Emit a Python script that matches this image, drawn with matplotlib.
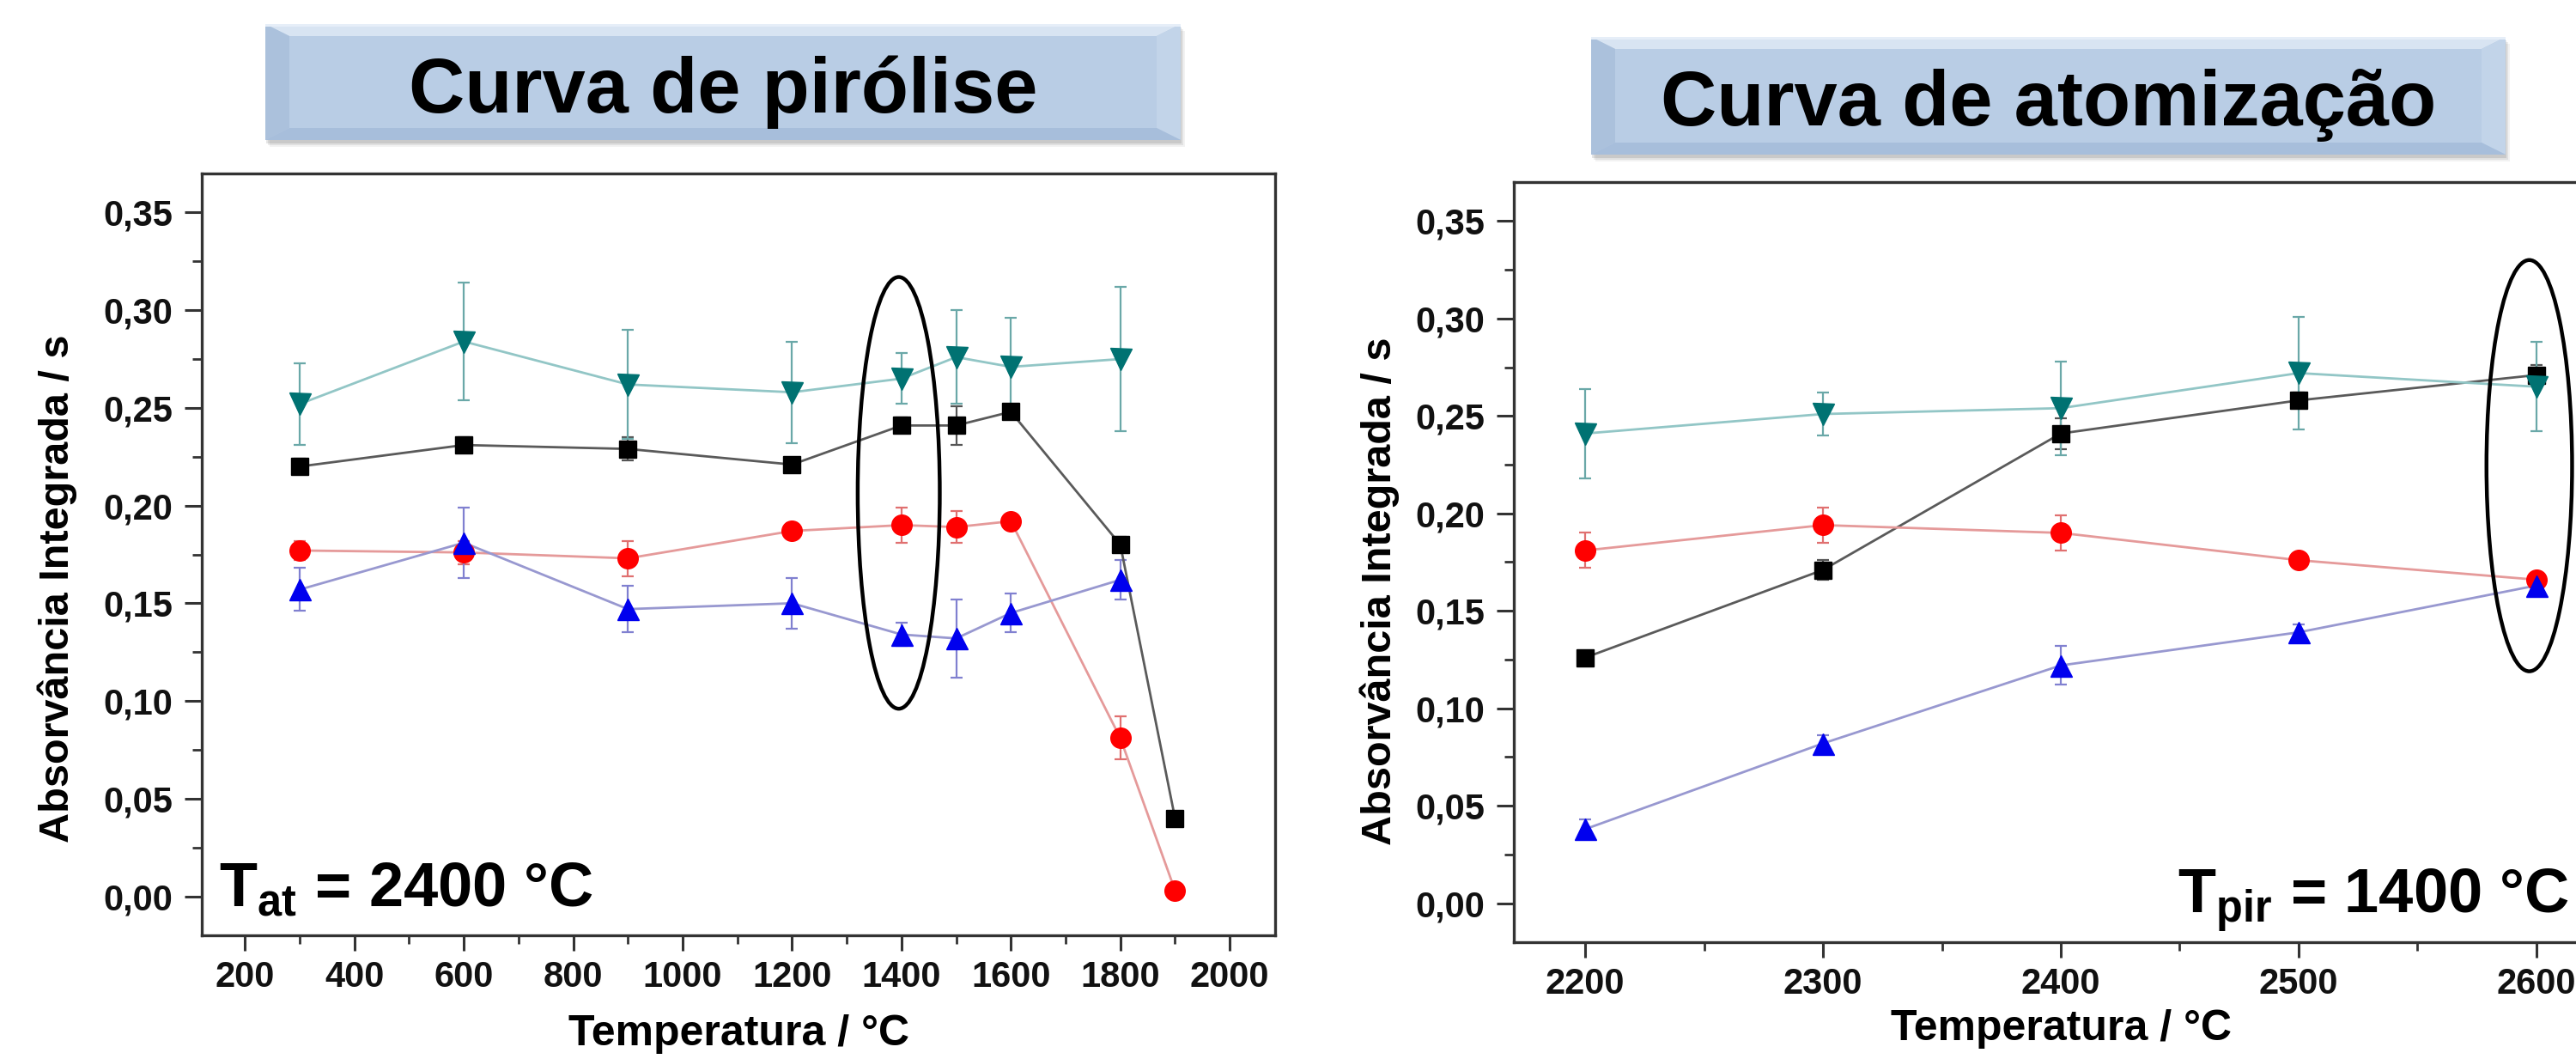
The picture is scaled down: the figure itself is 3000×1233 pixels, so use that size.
import matplotlib
matplotlib.use('Agg')
import matplotlib.pyplot as plt
from matplotlib.patches import Polygon, Rectangle, Ellipse
from matplotlib.ticker import MultipleLocator
import numpy as np

plt.rcParams['font.family'] = ['Liberation Sans', 'DejaVu Sans']
plt.rcParams['font.weight'] = 'bold'
plt.rcParams['mathtext.fontset'] = 'custom'
plt.rcParams['mathtext.rm'] = 'Liberation Sans:bold'
plt.rcParams['mathtext.it'] = 'Liberation Sans:bold'
plt.rcParams['mathtext.bf'] = 'Liberation Sans:bold'

# ---------------- data ----------------
# Curva de pirólise (T_at = 2400 °C)
pyro_temp = [300, 600, 900, 1200, 1400, 1500, 1600, 1800, 1900]
pyro_temp_short = [300, 600, 900, 1200, 1400, 1500, 1600, 1800]
pyro_square = [0.220, 0.231, 0.229, 0.221, 0.241, 0.241, 0.248, 0.180, 0.040]
pyro_square_err = [0.004, 0.004, 0.006, 0.003, 0.004, 0.010, 0.003, 0.004, 0.003]
pyro_circle = [0.177, 0.176, 0.173, 0.187, 0.190, 0.189, 0.192, 0.081, 0.003]
pyro_circle_err = [0.005, 0.006, 0.009, 0.004, 0.009, 0.008, 0.003, 0.011, 0.002]
pyro_up = [0.157, 0.181, 0.147, 0.150, 0.134, 0.132, 0.145, 0.162]
pyro_up_err = [0.011, 0.018, 0.012, 0.013, 0.006, 0.020, 0.010, 0.010]
pyro_down = [0.252, 0.284, 0.262, 0.258, 0.265, 0.276, 0.271, 0.275]
pyro_down_err = [0.021, 0.030, 0.028, 0.026, 0.013, 0.024, 0.025, 0.037]

# Curva de atomização (T_pir = 1400 °C)
atom_temp = [2200, 2300, 2400, 2500, 2600]
atom_square = [0.126, 0.171, 0.241, 0.258, 0.271]
atom_square_err = [0.003, 0.005, 0.008, 0.004, 0.005]
atom_circle = [0.181, 0.194, 0.190, 0.176, 0.166]
atom_circle_err = [0.009, 0.009, 0.009, 0.003, 0.003]
atom_up = [0.038, 0.082, 0.122, 0.139, 0.163]
atom_up_err = [0.005, 0.004, 0.010, 0.004, 0.005]
atom_down = [0.241, 0.251, 0.254, 0.272, 0.265]
atom_down_err = [0.023, 0.011, 0.024, 0.029, 0.023]

yticks = [0.00, 0.05, 0.10, 0.15, 0.20, 0.25, 0.30, 0.35]
ytick_labels = ['0,00', '0,05', '0,10', '0,15', '0,20', '0,25', '0,30', '0,35']
pyro_xticks = [200, 400, 600, 800, 1000, 1200, 1400, 1600, 1800, 2000]
atom_xticks = [2200, 2300, 2400, 2500, 2600]

titles = ['Curva de pirólise', 'Curva de atomização']
ylabel = 'Absorvância Integrada / s'
xlabel = 'Temperatura / °C'
note_pyro = r'T$_{\mathrm{at}}$ = 2400 °C'
note_atom = r'T$_{\mathrm{pir}}$ = 1400 °C'

# ---------------- styles ----------------
styles = {
    'square': dict(marker='s', mc='#000000', lc='#5a5a5a', ec='#555555', ms=15),
    'circle': dict(marker='o', mc='#ff0000', lc='#e59a9a', ec='#e07070', ms=17),
    'up':     dict(marker='^', mc='#0000ee', lc='#9898d0', ec='#8080d0', ms=18),
    'down':   dict(marker='v', mc='#007272', lc='#92c6c6', ec='#6aa8a8', ms=18),
}

W, H = 3000, 1233
fig = plt.figure(figsize=(W / 100, H / 100), dpi=100)
fig.patch.set_facecolor('white')

# overlay in pixel coordinates for decorations
bg = fig.add_axes([0, 0, 1, 1], zorder=-5)
bg.set_xlim(0, W)
bg.set_ylim(H, 0)
bg.axis('off')


def px_axes(x0, y0, x1, y1):
    return [x0 / W, 1 - y1 / H, (x1 - x0) / W, (y1 - y0) / H]


def draw_box(x0, y0, x1, y1, text, baseline):
    # shadow
    for off, a in [(8, 0.05), (6, 0.07), (4, 0.10)]:
        bg.add_patch(Rectangle((x0 + off - 3, y0 + off), x1 - x0, y1 - y0,
                               fc='#000000', alpha=a, ec='none', zorder=1))
    bw, th, bh = 28, 14, 14
    bg.add_patch(Rectangle((x0, y0), x1 - x0, y1 - y0, fc='#b9cde5', ec='none', zorder=2))
    bg.add_patch(Polygon([(x0, y0), (x1, y0), (x1 - bw, y0 + th), (x0 + bw, y0 + th)],
                         closed=True, fc='#d8e4f2', ec='none', zorder=3))
    bg.add_patch(Polygon([(x0, y0), (x0 + bw, y0 + th), (x0 + bw, y1 - bh), (x0, y1)],
                         closed=True, fc='#abc1dc', ec='none', zorder=3))
    bg.add_patch(Polygon([(x1, y0), (x1 - bw, y0 + th), (x1 - bw, y1 - bh), (x1, y1)],
                         closed=True, fc='#c2d4e9', ec='none', zorder=3))
    bg.add_patch(Polygon([(x0, y1), (x0 + bw, y1 - bh), (x1 - bw, y1 - bh), (x1, y1)],
                         closed=True, fc='#a7bedb', ec='none', zorder=3))
    bg.add_patch(Rectangle((x0, y0), x1 - x0, 3, fc='#e6eef8', ec='none', zorder=4))
    bg.text((x0 + x1) / 2, baseline, text, fontsize=65, fontweight='bold',
            ha='center', va='baseline', color='black', zorder=5)


draw_box(309, 28, 1375, 163, titles[0], 131)
draw_box(1853, 43, 2918, 180, titles[1], 146)


def plot_series(ax, x, y, e, key):
    st = styles[key]
    ax.errorbar(x, y, yerr=e, fmt='none', ecolor=st['ec'], elinewidth=1.6,
                capsize=5, capthick=1.6, zorder=2)
    ax.plot(x, y, '-', color=st['lc'], lw=2.0, zorder=3)
    ax.plot(x, y, ls='none', marker=st['marker'], color=st['mc'],
            ms=st['ms'], mec=st['mc'], zorder=4)


def style_axes(ax, xminor):
    ax.set_ylim(-0.02, 0.37)
    ax.set_yticks(yticks, labels=ytick_labels)
    ax.yaxis.set_minor_locator(MultipleLocator(0.025))
    ax.xaxis.set_minor_locator(MultipleLocator(xminor))
    for sp in ax.spines.values():
        sp.set_linewidth(2.4)
        sp.set_color('#333333')
    ax.tick_params(axis='both', which='both', direction='out', color='#333333',
                   top=False, right=False, labelsize=30, labelcolor='#111111')
    ax.tick_params(axis='y', which='major', length=14.4, width=2.2, pad=10)
    ax.tick_params(axis='y', which='minor', length=8, width=2)
    ax.tick_params(axis='x', which='major', length=12.6, width=2.2, pad=8)
    ax.tick_params(axis='x', which='minor', length=7.2, width=2)


# ---------- left: pirólise ----------
ax1 = fig.add_axes(px_axes(235, 202, 1485, 1089))
ax1.set_xlim(121, 2083)
plot_series(ax1, pyro_temp, pyro_square, pyro_square_err, 'square')
plot_series(ax1, pyro_temp, pyro_circle, pyro_circle_err, 'circle')
plot_series(ax1, pyro_temp_short, pyro_up, pyro_up_err, 'up')
plot_series(ax1, pyro_temp_short, pyro_down, pyro_down_err, 'down')
ax1.set_xticks(pyro_xticks)
style_axes(ax1, 100)
ax1.add_patch(Ellipse((1395, 0.2065), 150, 0.221, fill=False, ec='black', lw=3.2, zorder=6))
ax1.text(152, -0.005, note_pyro, fontsize=52, ha='left', va='baseline', zorder=7)
ax1.set_ylabel(ylabel, fontsize=35, fontweight='bold', va='center')
ax1.yaxis.set_label_coords(-0.1344, 0.455)
ax1.set_xlabel(xlabel, fontsize=36, fontweight='bold')
ax1.xaxis.set_label_coords(0.5, -0.104)

# ---------- right: atomização ----------
ax2 = fig.add_axes(px_axes(1763, 212, 3037, 1097))
ax2.set_xlim(2170, 2630)
plot_series(ax2, atom_temp, atom_square, atom_square_err, 'square')
plot_series(ax2, atom_temp, atom_circle, atom_circle_err, 'circle')
plot_series(ax2, atom_temp, atom_up, atom_up_err, 'up')
plot_series(ax2, atom_temp, atom_down, atom_down_err, 'down')
ax2.set_xticks(atom_xticks)
style_axes(ax2, 50)
ax2.add_patch(Ellipse((2597, 0.2245), 36, 0.211, fill=False, ec='black', lw=3.2,
                      zorder=6, clip_on=False))
ax2.text(2449, -0.005, note_atom, fontsize=52, ha='left', va='baseline', zorder=7)
ax2.set_ylabel(ylabel, fontsize=35, fontweight='bold', va='center')
ax2.yaxis.set_label_coords(-0.1225, 0.462)
ax2.set_xlabel(xlabel, fontsize=36, fontweight='bold')
ax2.xaxis.set_label_coords(0.5, -0.088)

fig.savefig('out.png', dpi=100)
